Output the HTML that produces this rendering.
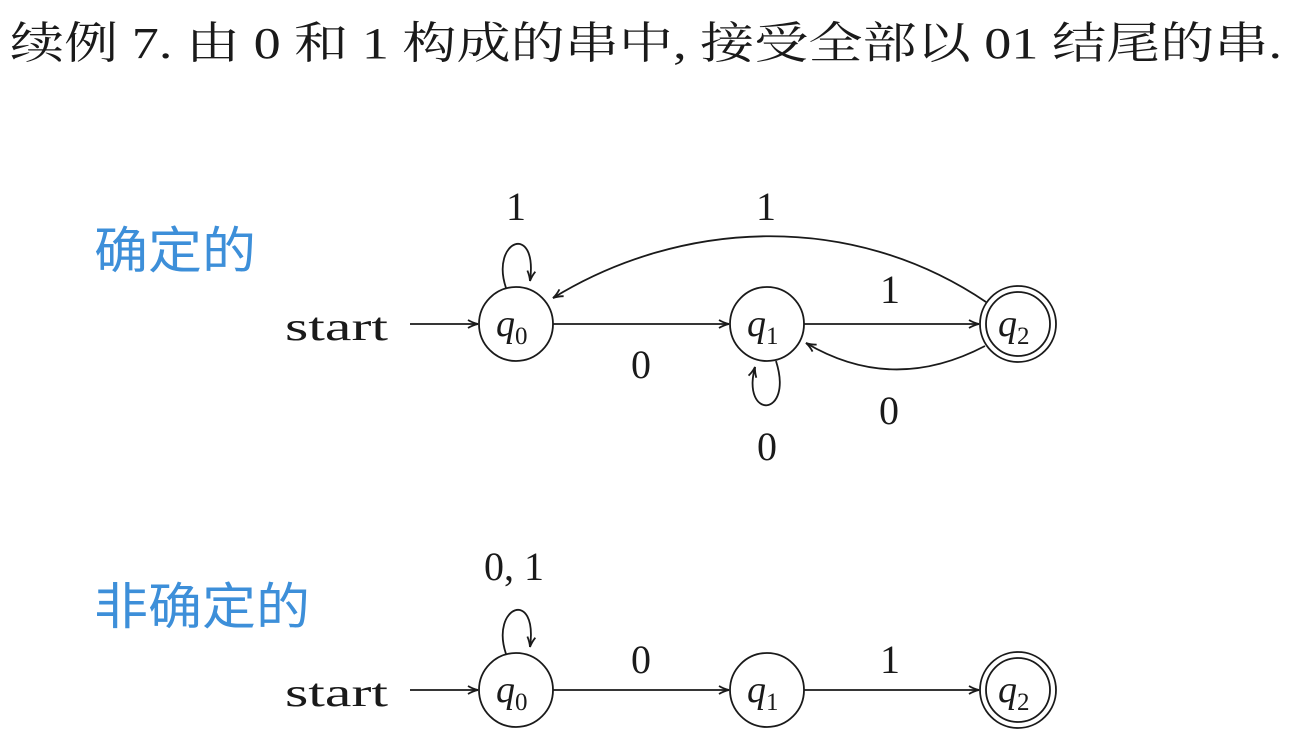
<!DOCTYPE html>
<html><head><meta charset="utf-8"><style>
html,body{margin:0;padding:0;background:#fff;width:1298px;height:754px;overflow:hidden}
svg{display:block}
.t{font-family:"Liberation Serif","Noto Serif CJK SC",serif;fill:#1a1a1a}
.b{font-family:"Liberation Sans","Noto Sans CJK SC",sans-serif;fill:#3d8fd9}
.q{font-family:"Liberation Serif",serif;font-style:italic;font-size:38px;fill:#1a1a1a}
.s{font-family:"Liberation Serif",serif;font-size:25px;fill:#1a1a1a}
.l{font-family:"Liberation Serif",serif;font-size:40px;fill:#1a1a1a}
</style></head><body>
<svg width="1298" height="754" viewBox="0 0 1298 754">
<defs><marker id="a" markerWidth="12" markerHeight="10" refX="11" refY="5" orient="auto" markerUnits="userSpaceOnUse"><path d="M1,1 Q6,4 11,5 Q6,6 1,9" fill="none" stroke="#1a1a1a" stroke-width="1.8"/></marker></defs>
<text class="t" x="10" y="58" font-size="44" textLength="1272" lengthAdjust="spacingAndGlyphs">续例 7. 由 0 和 1 构成的串中, 接受全部以 01 结尾的串.</text>
<text class="b" x="94" y="268" font-size="50" textLength="162" lengthAdjust="spacingAndGlyphs">确定的</text>
<text class="b" x="94" y="624" font-size="50" textLength="216" lengthAdjust="spacingAndGlyphs">非确定的</text>
<g stroke="#1a1a1a" stroke-width="1.8" fill="none">
<line x1="410" y1="324" x2="478" y2="324" marker-end="url(#a)"/>
<circle cx="516" cy="324" r="37"/>
<circle cx="767" cy="324" r="37"/>
<circle cx="1018" cy="324" r="38"/><circle cx="1018" cy="324" r="32"/>
<line x1="553" y1="324" x2="729" y2="324" marker-end="url(#a)"/>
<line x1="804" y1="324" x2="979" y2="324" marker-end="url(#a)"/>
<path d="M506,288 C490,240 538,222 530,281" marker-end="url(#a)"/>
<path d="M776,361 C794,418 741,420 755,367" marker-end="url(#a)"/>
<path d="M986,302 C850,210 680,220 553,298" marker-end="url(#a)"/>
<path d="M985,346 C920,380 860,375 806,343" marker-end="url(#a)"/>
<line x1="410" y1="690" x2="478" y2="690" marker-end="url(#a)"/>
<circle cx="516" cy="690" r="37"/>
<circle cx="767" cy="690" r="37"/>
<circle cx="1018" cy="690" r="38"/><circle cx="1018" cy="690" r="32"/>
<line x1="553" y1="690" x2="729" y2="690" marker-end="url(#a)"/>
<line x1="804" y1="690" x2="979" y2="690" marker-end="url(#a)"/>
<path d="M506,654 C490,606 538,588 530,647" marker-end="url(#a)"/>
</g>
<text class="l" x="285" y="340" font-size="44" textLength="103" lengthAdjust="spacingAndGlyphs">start</text>
<text class="l" x="285" y="706" font-size="44" textLength="103" lengthAdjust="spacingAndGlyphs">start</text>
<g class="q"><text x="496" y="336">q</text><text x="747" y="336">q</text><text x="998" y="336">q</text>
<text x="496" y="702">q</text><text x="747" y="702">q</text><text x="998" y="702">q</text></g>
<g class="s"><text x="515" y="344">0</text><text x="766" y="344">1</text><text x="1017" y="344">2</text>
<text x="515" y="710">0</text><text x="766" y="710">1</text><text x="1017" y="710">2</text></g>
<g class="l" text-anchor="middle">
<text x="516" y="220">1</text><text x="766" y="220">1</text><text x="890" y="303">1</text>
<text x="641" y="378">0</text><text x="889" y="424">0</text><text x="767" y="460">0</text>
<text x="514" y="580">0, 1</text><text x="641" y="673">0</text><text x="890" y="673">1</text>
</g>
</svg>
</body></html>
